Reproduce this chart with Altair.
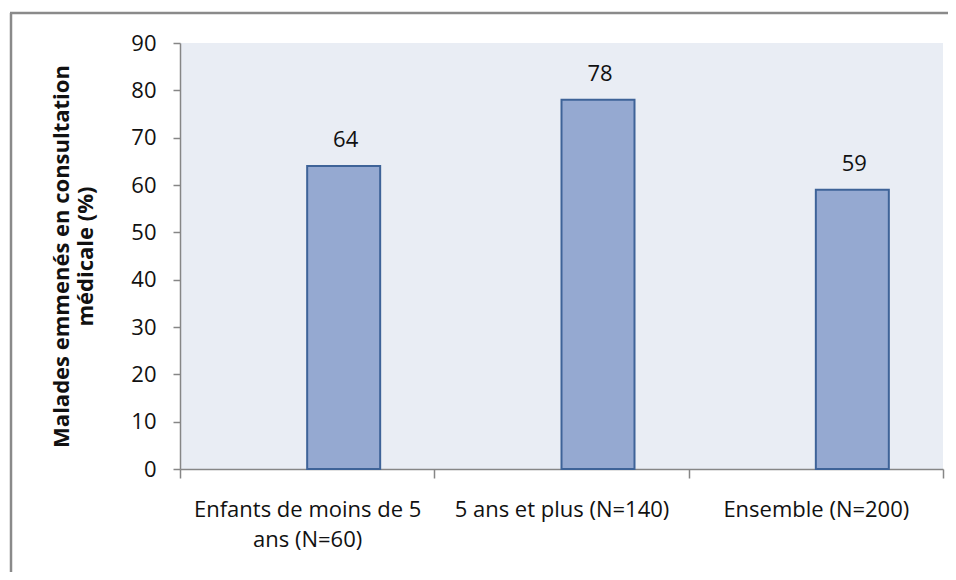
import altair as alt
import pandas as pd

categories = ["Enfants de moins de 5 ans (N=60)", "5 ans et plus (N=140)", "Ensemble (N=200)"]
values = [64, 78, 59]
y_ticks = [0, 10, 20, 30, 40, 50, 60, 70, 80, 90]
y_title = ["Malades emmenés en consultation", "médicale (%)"]

df = pd.DataFrame({"cat": categories, "val": values})

W, H = 763, 426
FONT = "Open Sans"
AX = "#868686"
BAR_W = 73

x_enc = alt.X(
    "cat:N",
    sort=categories,
    scale=alt.Scale(paddingInner=0, paddingOuter=0),
    axis=alt.Axis(
        title=None,
        labelAngle=0,
        tickBand="extent",
        tickSize=9,
        domainColor=AX,
        tickColor=AX,
        domainWidth=1.5,
        tickWidth=1.5,
        labelFont=FONT,
        labelFontSize=22,
        labelColor="#111111",
        labelPadding=21,
        labelLineHeight=30,
        labelLimit=400,
        labelBaseline="top",
        labelExpr="datum.value == 'Enfants de moins de 5 ans (N=60)' ? ['Enfants de moins de 5', 'ans (N=60)'] : datum.label",
    ),
)

y_enc = alt.Y(
    "val:Q",
    scale=alt.Scale(domain=[0, 90], nice=False),
    axis=alt.Axis(
        values=y_ticks,
        grid=False,
        tickSize=7,
        domainColor=AX,
        tickColor=AX,
        domainWidth=1.5,
        tickWidth=1.5,
        labelFont=FONT,
        labelFontSize=22,
        labelColor="#111111",
        labelPadding=17,
        title=y_title,
        titleFont=FONT,
        titleFontSize=22,
        titleFontWeight="bold",
        titleColor="#111111",
        titleAngle=270,
        titleX=-119,
        titleY=H / 2,
        titleAlign="center",
        titleBaseline="middle",
        titleLineHeight=24,
    ),
)

bars = alt.Chart(df).mark_bar(
    width=BAR_W, xOffset=BAR_W / 2, fill="#95A9D1", stroke="#3E6398", strokeWidth=2
).encode(x=x_enc, y=y_enc)

labels = alt.Chart(df).mark_text(
    xOffset=BAR_W / 2 + 2, dy=-19, baseline="alphabetic", font=FONT, fontSize=22, color="#111111"
).encode(x=alt.X("cat:N", sort=categories), y="val:Q", text="val:Q")

one = alt.Data(values=[{"a": 1}])
frame_left = alt.Chart(one).mark_rule(color="#8a8a8a", strokeWidth=2.5).encode(
    x=alt.value(-169), y=alt.value(-30), y2=alt.value(H + 200)
)
frame_top = alt.Chart(one).mark_rule(color="#8a8a8a", strokeWidth=2.5).encode(
    x=alt.value(-170), x2=alt.value(W + 100), y=alt.value(-30)
)

chart = alt.layer(bars, labels, frame_left, frame_top).properties(
    width=W,
    height=H,
    autosize=alt.AutoSizeParams(type="none"),
    padding={"left": 172, "top": 35, "right": 5, "bottom": 103},
    background="white",
).configure_view(fill="#E9EDF4", strokeWidth=0)

chart.save("out.html", embed_options={"renderer": "svg", "actions": False})
